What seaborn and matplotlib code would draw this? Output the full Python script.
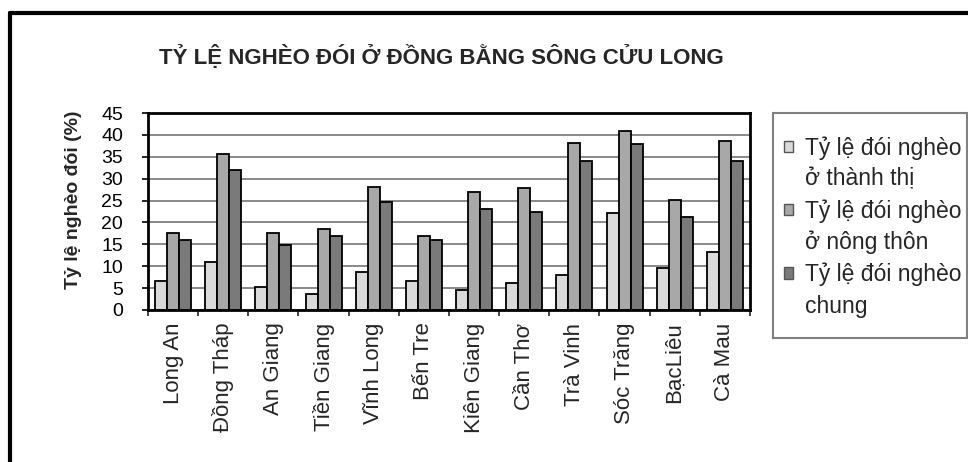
import matplotlib
matplotlib.use("Agg")
import matplotlib.pyplot as plt
from matplotlib.lines import Line2D
from matplotlib.patches import Patch, Rectangle
import seaborn as sns
import pandas as pd

# ---- data ----
provinces = ["Long An", "Đồng Tháp", "An Giang", "Tiền Giang", "Vĩnh Long", "Bến Tre",
             "Kiên Giang", "Cần Thơ", "Trà Vinh", "Sóc Trăng", "BạcLiêu", "Cà Mau"]
series_names = ["Tỷ lệ đói nghèo ở thành thị", "Tỷ lệ đói nghèo ở nông thôn", "Tỷ lệ đói nghèo chung"]
urban = [6.6, 10.9, 5.2, 3.6, 8.6, 6.7, 4.5, 6.1, 7.9, 22.1, 9.7, 13.2]
rural = [17.5, 35.7, 17.7, 18.5, 28.1, 17.0, 26.9, 27.8, 38.1, 40.9, 25.1, 38.7]
general = [15.9, 32.0, 14.9, 17.0, 24.7, 15.9, 23.1, 22.3, 34.0, 37.9, 21.2, 34.0]
title = "TỶ LỆ NGHÈO ĐÓI Ở ĐỒNG BẰNG SÔNG CỬU LONG"
ylabel = "Tỷ lệ nghèo đói (%)"
yticks = [0, 5, 10, 15, 20, 25, 30, 35, 40, 45]
colors = ["#dadada", "#a8a8a8", "#7a7a7a"]

sns.set_style("white")
plt.rcParams["font.family"] = ["Liberation Sans", "DejaVu Sans"]

df = pd.DataFrame({
    "Tỉnh": provinces * 3,
    "Loại": sum([[s] * len(provinces) for s in series_names], []),
    "Giá trị": urban + rural + general,
})

W, H = 968, 462
fig = plt.figure(figsize=(W / 100, H / 100), dpi=100)
ax = fig.add_axes([148 / W, 1 - 310 / H, (750 - 148) / W, (310 - 113) / H])

sns.barplot(data=df, x="Tỉnh", y="Giá trị", hue="Loại", order=provinces,
            hue_order=series_names, palette=colors, width=0.72,
            edgecolor="black", linewidth=1.3, saturation=1, ax=ax, legend=False)

ax.set_ylim(0, 45)
ax.set_xlim(-0.5, len(provinces) - 0.5)
ax.set_yticks(yticks)
ax.set_yticklabels([str(v) for v in yticks], fontsize=14)
ax.tick_params(axis="y", length=4, width=1.2, pad=14, colors="black", left=True)

# x: ticks at category boundaries, labels centered on categories
ax.set_xticks([i - 0.5 for i in range(len(provinces) + 1)])
ax.set_xticklabels([])
ax.set_xticks(range(len(provinces)), minor=True)
ax.set_xticklabels(provinces, minor=True, rotation=90, fontsize=16)
ax.tick_params(axis="x", which="major", length=4, width=1.2, bottom=True)
ax.tick_params(axis="x", which="minor", length=0, pad=9)
ax.set_xlabel("")
ax.set_ylabel("")

ax.yaxis.grid(True, color="#808080", linewidth=1.3)
ax.set_axisbelow(True)
for sp in ax.spines.values():
    sp.set_visible(True)
    sp.set_color("black")
    sp.set_linewidth(2)

fig.text(441 / W, 1 - 57 / H, title, ha="center", va="center",
         fontsize=16, fontweight="bold")
fig.text(73 / W, 1 - 200 / H, ylabel, ha="center", va="center",
         rotation=90, fontsize=14, fontweight="bold")

# outer frame
fig.add_artist(Line2D([10 / W, 1], [1 - 13 / H] * 2, transform=fig.transFigure,
                      color="black", linewidth=3))
fig.add_artist(Line2D([10 / W] * 2, [0, 1 - 13 / H], transform=fig.transFigure,
                      color="black", linewidth=3))

# legend frame
fig.add_artist(Rectangle((773 / W, 1 - 338 / H), 194 / W, 225 / H,
                         transform=fig.transFigure, facecolor="white",
                         edgecolor="#808080", linewidth=1.5, zorder=0))

# legend: marker on first line of each entry
handles, labels = [], []
for name, c in zip(series_names, colors):
    first, second = name.split(" nghèo ")
    handles.append(Patch(facecolor=c, edgecolor="#555555", linewidth=1))
    labels.append(first + " nghèo")
    handles.append(Patch(facecolor="none", edgecolor="none"))
    labels.append(second)

leg = fig.legend(handles, labels, loc="upper left",
                 bbox_to_anchor=(784 / W, 1 - 136 / H),
                 bbox_transform=fig.transFigure, borderaxespad=0, borderpad=0,
                 frameon=False, fontsize=16.5,
                 handlelength=0.4, handleheight=0.4, handletextpad=0.5,
                 labelspacing=0.36)

fig.savefig("out.png", dpi=100, facecolor="white")
